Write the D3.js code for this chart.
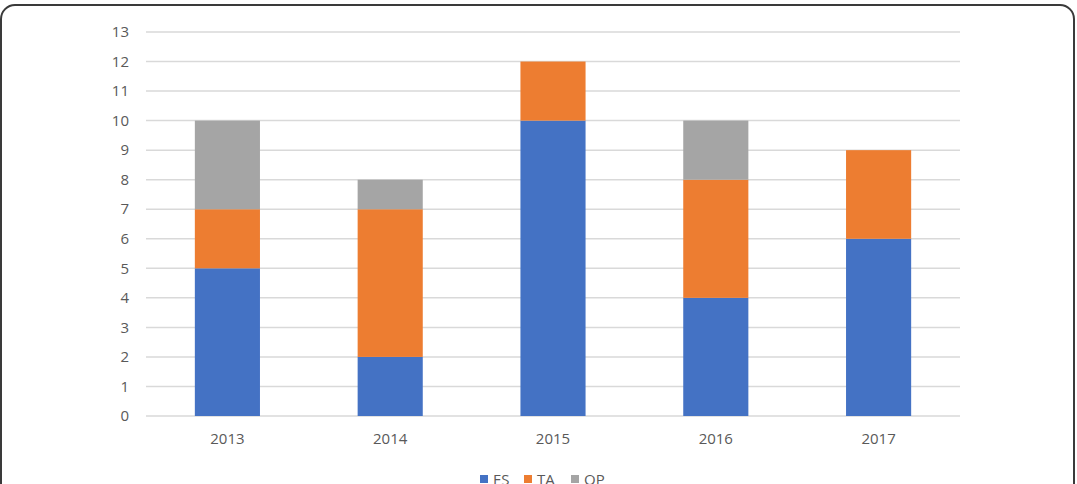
<!DOCTYPE html>
<html>
<head>
<meta charset="utf-8">
<script src="https://cdn.jsdelivr.net/npm/d3@7"></script>
<style>
    body { margin: 0; background: #fff; }
    svg { display: block; }
    text { font-family: "Open Sans", "Liberation Sans", sans-serif; fill: #595959; }
</style>
</head>
<body>
<div id="chart"></div>
<script>
"use strict";

const years = ["2013", "2014", "2015", "2016", "2017"];
const esValues = [5, 2, 10, 4, 6];
const taValues = [2, 5, 2, 4, 3];
const opValues = [3, 1, 0, 2, 0];
const seriesNames = ["ES", "TA", "OP"];
const seriesColors = ["#4472C4", "#ED7D31", "#A5A5A5"];
const yTicks = d3.range(0, 14);

const W = 1077, H = 484;
const FONT = 15;
const svg = d3.select("#chart").append("svg").attr("width", W).attr("height", H);

// outer frame, runs off the bottom
svg.append("rect")
    .attr("x", 1).attr("y", 5)
    .attr("width", 1073).attr("height", 520)
    .attr("rx", 14).attr("ry", 14)
    .attr("fill", "none")
    .attr("stroke", "#3a3a3a")
    .attr("stroke-width", 2);

const plotLeft = 146, plotRight = 960, plotTop = 32, plotBottom = 416;

const x = d3.scaleBand().domain(years).range([plotLeft, plotRight]).paddingInner(0.6).paddingOuter(0.3);
const y = d3.scaleLinear().domain([0, 13]).range([plotBottom, plotTop]);

// gridlines
svg.append("g").selectAll("line")
    .data(yTicks)
    .enter().append("line")
    .attr("x1", plotLeft).attr("x2", plotRight)
    .attr("y1", function (d) { return y(d); })
    .attr("y2", function (d) { return y(d); })
    .attr("stroke", "#D9D9D9")
    .attr("stroke-width", 1.5);

// y labels
svg.append("g").selectAll("text")
    .data(yTicks)
    .enter().append("text")
    .attr("x", 129)
    .attr("y", function (d) { return y(d); })
    .attr("dy", "0.35em")
    .attr("text-anchor", "end")
    .attr("font-size", FONT)
    .text(function (d) { return d; });

const rows = years.map(function (yr, i) {
    return {year: yr, ES: esValues[i], TA: taValues[i], OP: opValues[i]};
});
const stacked = d3.stack().keys(seriesNames)(rows);

svg.append("g").selectAll("g")
    .data(stacked)
    .enter().append("g")
    .attr("fill", function (d, i) { return seriesColors[i]; })
    .selectAll("rect")
    .data(function (d) { return d; })
    .enter().append("rect")
    .attr("x", function (d) { return x(d.data.year); })
    .attr("width", x.bandwidth())
    .attr("y", function (d) { return y(d[1]); })
    .attr("height", function (d) { return y(d[0]) - y(d[1]); });

// x labels
svg.append("g").selectAll("text")
    .data(years)
    .enter().append("text")
    .attr("x", function (d) { return x(d) + x.bandwidth() / 2; })
    .attr("y", 439)
    .attr("dy", "0.35em")
    .attr("text-anchor", "middle")
    .attr("font-size", FONT)
    .text(function (d) { return d; });

// legend (cut by the bottom edge, as in the source image)
const legendX = [480, 524, 571];
const lg = svg.append("g").selectAll("g")
    .data(seriesNames)
    .enter().append("g")
    .attr("transform", function (d, i) { return "translate(" + legendX[i] + ",0)"; });
lg.append("rect")
    .attr("x", 0).attr("y", 475)
    .attr("width", 8).attr("height", 8)
    .attr("fill", function (d, i) { return seriesColors[i]; });
lg.append("text")
    .attr("x", 13).attr("y", 480)
    .attr("dy", "0.35em")
    .attr("font-size", FONT)
    .text(function (d) { return d; });
</script>
</body>
</html>
